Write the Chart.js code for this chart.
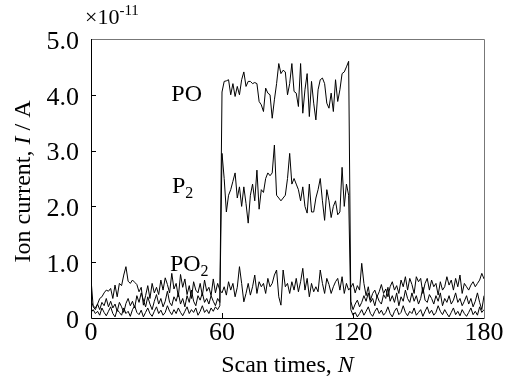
<!DOCTYPE html>
<html>
<head>
<meta charset="utf-8">
<script src="https://cdn.jsdelivr.net/npm/chart.js@4"></script>
<style>
  html, body { margin: 0; padding: 0; background: #fff; }
  #wrap { width: 509px; height: 383px; }
</style>
</head>
<body>
<div id="wrap"><canvas id="chart-ion" width="509" height="383"></canvas></div>
<script>
// Ion current vs scan times (x10^-11 A)

const xTicks = [0, 60, 120, 180];
const yTicks = [0, 1, 2, 3, 4, 5];

// scan number 0..180, one reading per scan
const scans = Array.from({ length: 181 }, (_, i) => i);

const po = [
    0.30, 0.22, 0.18, 0.25, 0.15, 0.28, 0.22, 0.35, 0.20, 0.30,
    0.18, 0.25, 0.12, 0.28, 0.20, 0.10, 0.26, 0.35, 0.22, 0.30,
    0.18, 0.40, 0.28, 0.45, 0.32, 0.20, 0.38, 0.25, 0.15, 0.30,
    0.42, 0.25, 0.35, 0.20, 0.30, 0.48, 0.28, 0.22, 0.38, 0.30,
    0.45, 0.25, 0.35, 0.20, 0.40, 0.28, 0.50, 0.30, 0.22, 0.40,
    0.32, 0.45, 0.28, 0.35, 0.25, 0.40, 0.30, 0.22, 0.35, 0.28,
    4.05, 4.24, 4.25, 4.27, 4.00, 4.20, 3.97, 4.15, 4.00, 4.27,
    4.41, 4.15, 4.24, 4.24, 4.20, 4.22, 4.20, 3.88, 3.82, 3.70,
    4.12, 4.03, 4.00, 3.58, 3.91, 4.20, 4.56, 4.38, 4.44, 4.41,
    4.00, 4.20, 4.56, 4.06, 4.03, 3.79, 4.56, 3.67, 4.09, 4.38,
    3.61, 4.24, 3.85, 3.55, 4.09, 4.27, 4.30, 4.20, 3.85, 3.76,
    4.03, 3.70, 4.27, 3.88, 4.09, 4.38, 4.41, 4.50, 4.60, 0.30,
    0.15, 0.25, 0.32, 0.20, 0.28, 0.40, 0.30, 0.45, 0.28, 0.35,
    0.22, 0.40, 0.30, 0.25, 0.42, 0.35, 0.55, 0.30, 0.40, 0.28,
    0.45, 0.22, 0.38, 0.30, 0.50, 0.35, 0.28, 0.45, 0.30, 0.40,
    0.25, 0.35, 0.55, 0.32, 0.28, 0.42, 0.35, 0.25, 0.40, 0.30,
    0.45, 0.22, 0.35, 0.28, 0.40, 0.25, 0.32, 0.45, 0.28, 0.35,
    0.22, 0.30, 0.40, 0.25, 0.35, 0.20, 0.30, 0.45, 0.28, 0.15,
    0.40
];

const p2 = [
    0.10, 0.15, 0.08, 0.12, 0.05, 0.18, 0.10, 0.04, 0.12, 0.20,
    0.08, 0.02, 0.15, 0.10, 0.05, 0.18, 0.08, 0.12, 0.03, 0.15,
    0.22, 0.10, 0.06, 0.14, 0.02, 0.10, 0.18, 0.08, 0.03, 0.12,
    0.20, 0.08, 0.14, 0.05, 0.10, 0.22, 0.12, 0.06, 0.15, 0.08,
    0.18, 0.10, 0.04, 0.12, 0.20, 0.08, 0.15, 0.10, 0.18, 0.05,
    0.12, 0.22, 0.10, 0.15, 0.08, 0.18, 0.12, 0.20, 0.15, 0.22,
    2.95, 2.50, 1.90, 2.20, 2.30, 2.45, 2.60, 2.15, 2.35, 2.00,
    2.35, 2.05, 1.70, 2.20, 2.40, 2.10, 2.65, 1.95, 2.30, 2.25,
    2.50, 2.60, 2.55, 2.60, 3.10, 2.20, 2.15, 2.10, 2.15, 2.20,
    2.50, 2.95, 2.40, 2.50, 2.40, 2.30, 2.10, 2.35, 2.00, 1.88,
    2.40, 1.90, 1.90, 2.15, 2.30, 2.50, 2.10, 1.75, 2.30, 2.10,
    1.80, 2.00, 2.10, 1.85, 1.90, 2.70, 2.00, 2.40, 2.20, 0.15,
    0.05, 0.10, 0.02, 0.08, 0.15, 0.05, 0.12, 0.20, 0.08, 0.03,
    0.12, 0.18, 0.08, 0.14, 0.05, 0.10, 0.20, 0.08, 0.02, 0.12,
    0.18, 0.06, 0.10, 0.22, 0.10, 0.04, 0.12, 0.08, 0.18, 0.05,
    0.10, 0.15, 0.03, 0.12, 0.20, 0.08, 0.14, 0.05, 0.10, 0.22,
    0.12, 0.06, 0.15, 0.08, 0.02, 0.10, 0.18, 0.06, 0.12, 0.04,
    0.15, 0.08, 0.03, 0.10, 0.18, 0.06, 0.12, 0.05, 0.20, 0.10,
    0.15
];

const po2 = [
    0.70, 0.20, 0.15, 0.25, 0.35, 0.38, 0.45, 0.50, 0.48, 0.53,
    0.35, 0.59, 0.38, 0.62, 0.58, 0.77, 0.92, 0.66, 0.62, 0.68,
    0.64, 0.60, 0.47, 0.55, 0.23, 0.40, 0.58, 0.35, 0.62, 0.45,
    0.55, 0.42, 0.68, 0.50, 0.72, 0.60, 0.45, 0.80, 0.52, 0.62,
    0.38, 0.78, 0.55, 0.70, 0.42, 0.58, 0.35, 0.65, 0.50, 0.45,
    0.62, 0.40, 0.68, 0.48, 0.55, 0.40, 0.70, 0.45, 0.62, 0.50,
    0.45, 0.56, 0.41, 0.65, 0.50, 0.62, 0.38, 0.55, 0.92, 0.62,
    0.29, 0.44, 0.62, 0.41, 0.56, 0.77, 0.44, 0.65, 0.56, 0.62,
    0.44, 0.71, 0.56, 0.62, 0.77, 0.86, 0.38, 0.23, 0.86, 0.56,
    0.62, 0.44, 0.65, 0.50, 0.71, 0.47, 0.65, 0.89, 0.50, 0.71,
    0.38, 0.62, 0.47, 0.56, 0.47, 0.86, 0.62, 0.44, 0.71, 0.60,
    0.44, 0.56, 0.65, 0.71, 0.50, 0.74, 0.44, 0.62, 0.50, 0.55,
    0.62, 0.45, 0.58, 0.50, 0.98, 0.62, 0.40, 0.56, 0.32, 0.44,
    0.50, 0.38, 0.47, 0.60, 0.44, 0.52, 0.38, 0.56, 0.65, 0.50,
    0.58, 0.44, 0.68, 0.56, 0.74, 0.50, 0.71, 0.60, 0.44, 0.74,
    0.65, 0.71, 0.44, 0.62, 0.71, 0.50, 0.68, 0.56, 0.62, 0.41,
    0.65, 0.50, 0.56, 0.74, 0.59, 0.68, 0.50, 0.71, 0.56, 0.77,
    0.44, 0.62, 0.56, 0.50, 0.59, 0.65, 0.56, 0.62, 0.68, 0.80,
    0.70
];

// text labels next to the curves, in data units
const seriesLabels = [
    { text: 'PO', sub: '', x: 43.8, y: 4.0 },
    { text: 'P', sub: '2', x: 42, y: 2.35 },
    { text: 'PO', sub: '2', x: 45, y: 0.95 }
];

const serif = "'Liberation Serif', 'DejaVu Serif', serif";

function toPoints(values) {
    return values.map((v, i) => ({ x: scans[i], y: v }));
}

// frame, inward ticks, curve labels and axis titles
const decorPlugin = {
    id: 'decor',
    afterDraw(chart) {
        const ctx = chart.ctx;
        const a = chart.chartArea;
        const xs = chart.scales.x;
        const ys = chart.scales.y;
        ctx.save();

        // frame
        ctx.lineWidth = 1;
        ctx.strokeStyle = '#777';
        ctx.beginPath();
        ctx.moveTo(a.left, a.top + 0.5);
        ctx.lineTo(a.right + 0.5, a.top + 0.5);
        ctx.lineTo(a.right + 0.5, a.bottom);
        ctx.stroke();
        ctx.strokeStyle = '#000';
        ctx.beginPath();
        ctx.moveTo(a.left + 0.5, a.top);
        ctx.lineTo(a.left + 0.5, a.bottom + 0.5);
        ctx.lineTo(a.right + 0.5, a.bottom + 0.5);
        ctx.stroke();

        // inward ticks
        ctx.beginPath();
        yTicks.slice(1, -1).forEach(v => {
            const py = Math.round(ys.getPixelForValue(v)) + 0.5;
            ctx.moveTo(a.left, py);
            ctx.lineTo(a.left + 5, py);
        });
        xTicks.slice(1, -1).forEach(v => {
            const px = Math.round(xs.getPixelForValue(v)) + 0.5;
            ctx.moveTo(px, a.bottom);
            ctx.lineTo(px, a.bottom - 5);
        });
        ctx.stroke();

        // curve labels
        ctx.fillStyle = '#000';
        ctx.textBaseline = 'middle';
        seriesLabels.forEach(l => {
            const px = xs.getPixelForValue(l.x);
            const py = ys.getPixelForValue(l.y);
            ctx.font = '24px ' + serif;
            const w1 = ctx.measureText(l.text).width;
            ctx.font = '16px ' + serif;
            const w2 = l.sub ? ctx.measureText(l.sub).width : 0;
            const x0 = px - (w1 + w2) / 2;
            ctx.font = '24px ' + serif;
            ctx.textAlign = 'left';
            ctx.fillText(l.text, x0, py);
            if (l.sub) {
                ctx.font = '16px ' + serif;
                ctx.fillText(l.sub, x0 + w1, py + 7);
            }
        });

        // multiplier
        ctx.textAlign = 'left';
        ctx.font = '22px ' + serif;
        ctx.fillText('\u00d710', 85, 18);
        const wm = ctx.measureText('\u00d710').width;
        ctx.font = '15px ' + serif;
        ctx.fillText('-11', 85 + wm, 11);

        // axis titles (mixed upright / italic)
        const parts = (list, font) => list.map(p => {
            ctx.font = (p.italic ? 'italic ' : '') + font;
            return { t: p.t, italic: p.italic, w: ctx.measureText(p.t).width };
        });
        const drawRun = (runs, font, cx, cy) => {
            const total = runs.reduce((s, r) => s + r.w, 0);
            let x = cx - total / 2;
            runs.forEach(r => {
                ctx.font = (r.italic ? 'italic ' : '') + font;
                ctx.fillText(r.t, x, cy);
                x += r.w;
            });
        };
        const titleFont = '24px ' + serif;
        drawRun(parts([{ t: 'Scan times, ' }, { t: 'N', italic: true }], titleFont),
            titleFont, (a.left + a.right) / 2, 366);

        ctx.translate(24, (a.top + a.bottom) / 2 + 3);
        ctx.rotate(-Math.PI / 2);
        drawRun(parts([{ t: 'Ion current, ' }, { t: 'I', italic: true }, { t: ' / A' }], titleFont),
            titleFont, 0, 0);

        ctx.restore();
    }
};

function lineSet(label, values) {
    return {
        label: label,
        data: toPoints(values),
        borderColor: '#000',
        borderWidth: 1,
        pointRadius: 0,
        tension: 0,
        fill: false
    };
}

const ctxIon = document.getElementById('chart-ion');
new Chart(ctxIon, {
    type: 'line',
    data: {
        datasets: [
            lineSet('PO', po),
            lineSet('P2', p2),
            lineSet('PO2', po2)
        ]
    },
    options: {
        responsive: false,
        animation: false,
        layout: { padding: { top: 39, right: 25, left: 0, bottom: 0 } },
        plugins: {
            legend: { display: false },
            tooltip: { enabled: false }
        },
        scales: {
            x: {
                type: 'linear',
                min: 0,
                max: 180,
                grid: { display: false, drawTicks: false },
                border: { display: false },
                afterBuildTicks: s => { s.ticks = xTicks.map(v => ({ value: v })); },
                afterFit: s => { s.height = 65; },
                ticks: {
                    color: '#000',
                    padding: 0,
                    maxRotation: 0,
                    font: { family: serif, size: 26 }
                }
            },
            y: {
                min: 0,
                max: 5,
                grid: { display: false, drawTicks: false },
                border: { display: false },
                afterBuildTicks: s => { s.ticks = yTicks.map(v => ({ value: v })); },
                afterFit: s => { s.width = 91; },
                ticks: {
                    color: '#000',
                    padding: 12,
                    labelOffset: 3,
                    font: { family: serif, size: 26 },
                    callback: v => v === 0 ? '0' : v.toFixed(1)
                }
            }
        }
    },
    plugins: [decorPlugin]
});
</script>
</body>
</html>
